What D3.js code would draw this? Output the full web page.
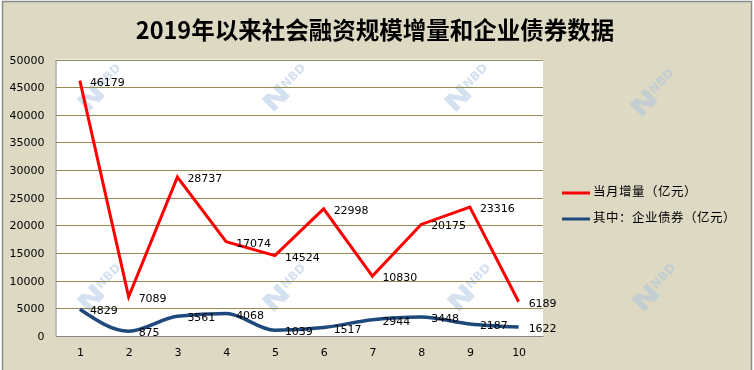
<!DOCTYPE html>
<meta charset="utf-8">
<style>
body { margin: 0; background: #ffffff; }
svg text { font-family: 'DejaVu Sans', Verdana, sans-serif; }
.cjk { font-family: 'Noto Sans CJK SC', sans-serif; }
</style>
<script src="https://d3js.org/d3.v7.min.js"></script>
<div id="chart"></div>
<script>

// data
var months = ["1", "2", "3", "4", "5", "6", "7", "8", "9", "10"];
var monthlyTotal = [46179, 7089, 28737, 17074, 14524, 22998, 10830, 20175, 23316, 6189];
var corpBonds = [4829, 875, 3561, 4068, 1039, 1517, 2944, 3448, 2187, 1622];
var yTicks = [0, 5000, 10000, 15000, 20000, 25000, 30000, 35000, 40000, 45000, 50000];
var seriesNames = ["当月增量（亿元）", "其中：企业债券（亿元）"];
var title = "2019年以来社会融资规模增量和企业债券数据";

var W = 754, H = 370;
var plot = {left: 55.5, right: 543, top: 59.5, bottom: 336};

var svg = d3.select("#chart").append("svg")
    .attr("width", W)
    .attr("height", H);

// chart background + frame
svg.append("rect")
    .attr("x", 2.5).attr("y", 1.5)
    .attr("width", 749).attr("height", 372)
    .attr("fill", "#ddd9c3")
    .attr("stroke", "#8c8c8c")
    .attr("stroke-width", 1.5);

svg.append("rect")
    .attr("x", plot.left).attr("y", plot.top)
    .attr("width", plot.right - plot.left)
    .attr("height", plot.bottom - plot.top)
    .attr("fill", "#ffffff");

var x = d3.scalePoint()
    .domain(months)
    .range([plot.left, plot.right])
    .padding(0.5);

var y = d3.scaleLinear()
    .domain([0, 50000])
    .range([plot.bottom, plot.top]);

// watermarks
var marks = [[95, 92], [280, 92], [462, 92], [648, 97], [95, 292], [280, 292], [465, 292], [650, 292]];
var wm = svg.append("g").attr("opacity", 0.5);
marks.forEach(function(p) {
  var g = wm.append("g")
      .attr("transform", "translate(" + p[0] + "," + p[1] + ") rotate(-45)");
  g.append("path")
      .attr("d", "M-18,-8 L-10,-8 L-2,4 L-2,-8 L4,-8 L4,10 L-4,10 L-12,-2 L-12,10 L-18,10 Z")
      .attr("fill", "#a9c2e0");
  g.append("text")
      .attr("x", 6).attr("y", 2)
      .attr("fill", "#a9c2e0")
      .style("font-size", "12px")
      .style("font-weight", "bold")
      .text("NBD");
});

// gridlines
svg.append("g")
  .selectAll("line")
  .data(yTicks.filter(function(d) { return d > 0; }))
  .enter()
  .append("line")
    .attr("x1", plot.left)
    .attr("x2", plot.right)
    .attr("y1", function(d) { return Math.round(y(d)) + 0.5; })
    .attr("y2", function(d) { return Math.round(y(d)) + 0.5; })
    .attr("stroke", "#948a54")
    .attr("stroke-width", 1.2);

// axes
var yAxis = svg.append("g")
    .attr("transform", "translate(" + plot.left + ",0)")
    .call(d3.axisLeft(y).tickValues(yTicks).tickSize(0).tickPadding(11).tickFormat(d3.format("d")));
yAxis.select(".domain").attr("stroke", "#868686");
yAxis.selectAll("text").style("font-size", "11px").attr("fill", "#000");

var xAxis = svg.append("g")
    .attr("transform", "translate(0," + plot.bottom + ")")
    .call(d3.axisBottom(x).tickSize(0).tickPadding(12));
xAxis.select(".domain").attr("stroke", "#868686");
xAxis.selectAll("text").style("font-size", "11px").attr("fill", "#000");

// lines
var redLine = d3.line()
    .x(function(d, i) { return x(months[i]); })
    .y(function(d) { return y(d); });

var blueLine = d3.line()
    .x(function(d, i) { return x(months[i]); })
    .y(function(d) { return y(d); })
    .curve(d3.curveMonotoneX);

svg.append("path")
    .datum(monthlyTotal)
    .attr("d", redLine)
    .attr("fill", "none")
    .attr("stroke", "#ff0000")
    .attr("stroke-width", 3)
    .attr("stroke-linejoin", "miter");

svg.append("path")
    .datum(corpBonds)
    .attr("d", blueLine)
    .attr("fill", "none")
    .attr("stroke", "#1f497d")
    .attr("stroke-width", 3.5);

// data labels
[monthlyTotal, corpBonds].forEach(function(series) {
  svg.append("g")
    .selectAll("text")
    .data(series)
    .enter()
    .append("text")
      .attr("x", function(d, i) { return x(months[i]) + 10; })
      .attr("y", function(d) { return y(d) + 2; })
      .attr("dominant-baseline", "middle")
      .style("font-size", "11px")
      .attr("fill", "#000")
      .text(function(d) { return d; });
});

// title
svg.append("text")
    .attr("class", "cjk")
    .attr("x", 375)
    .attr("y", 39)
    .attr("text-anchor", "middle")
    .style("font-size", "23.5px")
    .style("font-weight", "bold")
    .text(title);

// legend
var legendColors = ["#ff0000", "#1f497d"];
var legend = svg.append("g");
seriesNames.forEach(function(name, i) {
  var ly = 193 + i * 26;
  legend.append("line")
      .attr("x1", 562).attr("x2", 590)
      .attr("y1", ly).attr("y2", ly)
      .attr("stroke", legendColors[i])
      .attr("stroke-width", 3);
  legend.append("text")
      .attr("class", "cjk")
      .attr("x", 593)
      .attr("y", ly)
      .attr("dominant-baseline", "middle")
      .style("font-size", "12.5px")
      .style("letter-spacing", "0.5px")
      .text(name);
});

</script>
